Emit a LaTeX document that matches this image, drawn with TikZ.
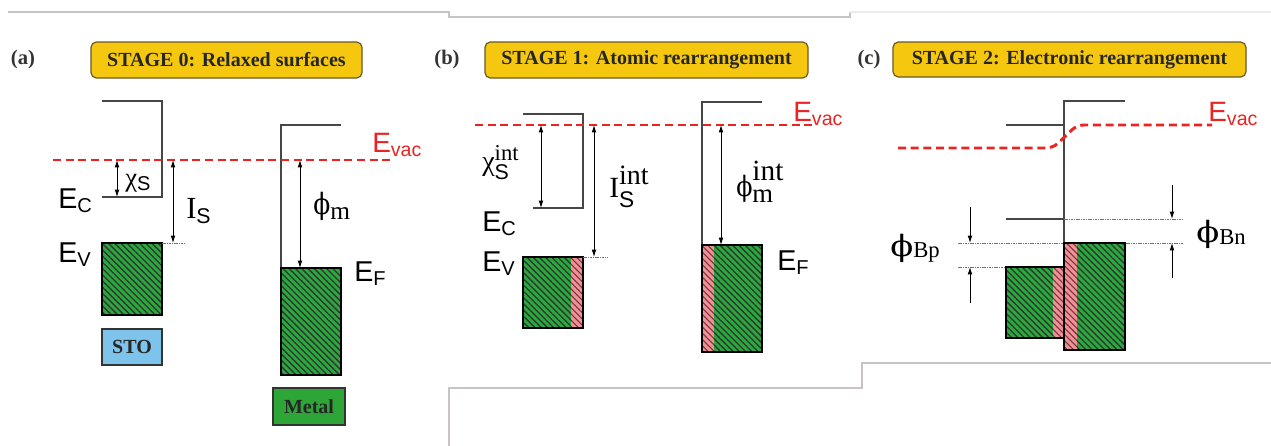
\RequirePackage{fix-cm}
\documentclass[tikz,border=0pt]{standalone}
\usepackage{amsmath}
\usepackage{graphicx}
\usepackage{fontspec}
\setmainfont{Liberation Serif}
\setsansfont{Liberation Sans}
\newfontfamily\phifont{DejaVu Serif}
\usetikzlibrary{patterns.meta,arrows.meta}
\definecolor{gold}{RGB}{245,200,15}
\definecolor{goldedge}{RGB}{105,90,40}
\definecolor{evacred}{RGB}{235,35,35}
\definecolor{bandgray}{RGB}{70,70,70}
\definecolor{hgreen}{RGB}{40,170,60}
\definecolor{hpink}{RGB}{240,145,150}
\definecolor{pinkline}{RGB}{120,50,60}
\definecolor{stoblue}{RGB}{125,195,235}
\definecolor{metalgreen}{RGB}{45,165,55}
\definecolor{framegray}{RGB}{200,196,196}
\newcommand{\fsz}[1]{\fontsize{#1}{#1}\selectfont}
\newcommand{\scripts}[4]{\begingroup\setbox0\hbox{#1}\setbox2\hbox{#3}%
  \ifdim\wd0>\wd2 \rlap{\raisebox{-#4}{\box2}}\raisebox{#2}{\box0}%
  \else \rlap{\raisebox{#2}{\box0}}\raisebox{-#4}{\box2}\fi\endgroup}
\newcommand{\phisym}[2]{{\phifont\fsz{#1}\scalebox{#2}[1]{ϕ}}}
\tikzset{
  stagebox/.style={draw=goldedge, fill=gold, rounded corners=4pt, line width=0.9pt, inner sep=0pt,
     font=\fontsize{15}{18}\selectfont\bfseries, text=black!85},
  panel/.style={font=\fontsize{15.5}{18}\selectfont\bfseries, text=black!80, inner sep=0pt},
  band/.style={draw=bandgray, line width=1pt},
  evac/.style={draw=evacred, line width=2.2pt, dash pattern=on 6pt off 3.5pt},
  evaclbl/.style={text=evacred, font=\sffamily\fontsize{21}{24}\selectfont, inner sep=0pt, anchor=base west},
  elbl/.style={font=\sffamily\fontsize{21.5}{24}\selectfont, inner sep=0pt, anchor=base west},
  qlbl/.style={inner sep=0pt, anchor=base west},
  arr/.style={line width=0.6pt, {Latex[length=5.5pt,width=3.5pt]}-{Latex[length=5.5pt,width=3.5pt]}},
  sarr/.style={line width=0.6pt, -{Latex[length=5.5pt,width=3.5pt]}},
  lvl/.style={draw=black!55, line width=0.6pt, dash pattern=on 1.2pt off 0.6pt},
  gband/.style={preaction={fill=hgreen}, pattern={Lines[angle=-45,distance=3.3pt,line width=1pt]}, pattern color=black!80},
  pband/.style={preaction={fill=hpink}, pattern={Lines[angle=-45,distance=3.3pt,line width=0.8pt]}, pattern color=pinkline},
  boxedge/.style={draw=black, line width=0.8pt},
  tagbox/.style={draw=black!80, line width=0.8pt, inner sep=0pt, font=\fontsize{15}{18}\selectfont\bfseries, text=black!85},
}
\begin{document}
\begin{tikzpicture}[x=0.75pt,y=-0.75pt]
\useasboundingbox (0,0) rectangle (1271,446);
\fill[white] (0,0) rectangle (1271,446);
% screenshot frame lines
\draw[framegray, line width=0.8pt] (8,12) -- (449,12) -- (449,17) -- (850,17) -- (850,12);
\draw[framegray!35, line width=0.8pt] (850,12) -- (1271,12);
\draw[framegray, line width=0.8pt] (449,446) -- (449,388) -- (862,388) -- (862,363) -- (1271,363);

% ================= panel (a)
\node[panel] (pa) at (23,60) {(a)};
\node[stagebox, minimum width=203.25pt, minimum height=27pt] (s0) at (226.5,60) {STAGE 0: Relaxed surfaces};
\coordinate (a1) at (102,101); \coordinate (a2) at (162,101);
\coordinate (a3) at (162,197); \coordinate (a4) at (102,197);
\draw[band] (a1) -- (a2) -- (a3) -- (a4);
\path[gband] (102,243) rectangle (162,315);
\draw[boxedge] (102,243) rectangle (162,315);
\coordinate (aEV) at (162,243); \coordinate (aEVd) at (186,243);
\draw[lvl] (aEV) -- (aEVd);
\coordinate (m1) at (281,375); \coordinate (m2) at (281,125); \coordinate (m3) at (341,125);
\draw[band] (m1) -- (m2) -- (m3);
\path[gband] (281,268) rectangle (341,375);
\draw[boxedge] (281,268) rectangle (341,375);
\coordinate (av0) at (53,160); \coordinate (av1) at (390,160);
\draw[evac] (av0) -- (av1);
\node[evaclbl] (aevl) at (372,152) {E$_{\text{vac}}$};
\coordinate (achiT) at (117,160); \coordinate (achiB) at (117,197);
\draw[arr] (achiT) -- (achiB);
\node[qlbl] (achi) at (125,186) {{\fsz{20}χ}\raisebox{-3.5pt}{\sffamily\fsz{15}S}};
\coordinate (aIT) at (173,160); \coordinate (aIB) at (173,243);
\draw[arr] (aIT) -- (aIB);
\node[qlbl] (aIS) at (186,218) {{\fsz{23}I}\raisebox{-4pt}{\sffamily\fsz{16}S}};
\coordinate (aphT) at (300,160); \coordinate (aphB) at (300,268);
\draw[arr] (aphT) -- (aphB);
\node[qlbl] (aphi) at (313,214) {\phisym{22}{0.85}\raisebox{-4pt}{\fsz{19}m}};
\node[elbl] (aEC) at (58,208) {E$_{\text{C}}$};
\node[elbl] (aEVl) at (58,262) {E$_{\text{V}}$};
\node[elbl] (aEF) at (354,281) {E$_{\text{F}}$};
\node[tagbox, fill=stoblue, minimum width=45pt, minimum height=27pt] (sto) at (132,347) {STO};
\node[tagbox, fill=metalgreen, minimum width=54pt, minimum height=27.75pt] (metal) at (309,406.5) {Metal};

% ================= panel (b)
\node[panel] (pb) at (447,60) {(b)};
\node[stagebox, minimum width=242.25pt, minimum height=27pt] (s1) at (646.5,60) {STAGE 1: Atomic rearrangement};
\coordinate (b1) at (523,114); \coordinate (b2) at (583,114);
\coordinate (b3) at (583,208); \coordinate (b4) at (533,208);
\draw[band] (b1) -- (b2) -- (b3) -- (b4);
\path[gband] (523,257) rectangle (571,328);
\path[pband] (571,257) rectangle (583,328);
\draw[boxedge] (523,257) rectangle (583,328);
\coordinate (bEV) at (583,257); \coordinate (bEVd) at (608,257);
\draw[lvl] (bEV) -- (bEVd);
\coordinate (n1) at (702,352); \coordinate (n2) at (702,102); \coordinate (n3) at (762,102);
\draw[band] (n1) -- (n2) -- (n3);
\path[pband] (702,245) rectangle (714,352);
\path[gband] (714,245) rectangle (762,352);
\draw[boxedge] (702,245) rectangle (762,352);
\coordinate (bv0) at (475,125); \coordinate (bv1) at (812,125);
\draw[evac] (bv0) -- (bv1);
\node[evaclbl] (bevl) at (793,121) {E$_{\text{vac}}$};
\coordinate (bchiT) at (541,125); \coordinate (bchiB) at (541,208);
\draw[arr] (bchiT) -- (bchiB);
\node[qlbl] (bchi) at (482,170) {{\fsz{21}χ}\scripts{\fsz{17}int}{7pt}{\sffamily\fsz{16}S}{7pt}};
\coordinate (bIT) at (594,125); \coordinate (bIB) at (594,257);
\draw[arr] (bIT) -- (bIB);
\node[qlbl] (bIS) at (609,197) {{\fsz{22}I}\scripts{\fsz{21}int}{9.5pt}{\sffamily\fsz{17}S}{7.5pt}};
\coordinate (bphT) at (721,125); \coordinate (bphB) at (721,245);
\draw[arr] (bphT) -- (bphB);
\node[qlbl] (bphi) at (736,196) {\phisym{21}{0.85}\scripts{\fsz{22}int}{12pt}{\fsz{20}m}{5pt}};
\node[elbl] (bEC) at (482,231) {E$_{\text{C}}$};
\node[elbl] (bEVl) at (482,271) {E$_{\text{V}}$};
\node[elbl] (bEF) at (777,270) {E$_{\text{F}}$};

% ================= panel (c)
\node[panel] (pc) at (869,60) {(c)};
\node[stagebox, minimum width=264.75pt, minimum height=26.25pt] (s2) at (1069.5,59.5) {STAGE 2: Electronic rearrangement};
\coordinate (c1) at (1064,243); \coordinate (c2) at (1064,101); \coordinate (c3) at (1125,101);
\draw[band] (c1) -- (c2) -- (c3);
\coordinate (cv1) at (1006,125); \coordinate (cv2) at (1064,125);
\draw[band] (cv1) -- (cv2);
\coordinate (cc1) at (1006,219); \coordinate (cc2) at (1064,219); \coordinate (cc3) at (1183,219);
\draw[band] (cc1) -- (cc2);
\draw[lvl] (cc2) -- (cc3);
\coordinate (cf1) at (958,243); \coordinate (cf2) at (1183,243);
\draw[lvl] (cf1) -- (cf2);
\coordinate (cp1) at (958,267); \coordinate (cp2) at (1006,267);
\draw[lvl] (cp1) -- (cp2);
\path[gband] (1006,267) rectangle (1053,338);
\path[pband] (1053,267) rectangle (1064,338);
\draw[boxedge] (1006,267) rectangle (1064,338);
\path[pband] (1064,243) rectangle (1077,350);
\path[gband] (1077,243) rectangle (1125,350);
\draw[boxedge] (1064,243) rectangle (1125,350);
\coordinate (cva) at (898,148); \coordinate (cvb) at (1053,148);
\coordinate (cvc) at (1077,125); \coordinate (cvd) at (1212,125);
\draw[evac, rounded corners=5pt] (cva) -- (cvb) -- (cvc) -- (cvd);
\node[evaclbl] (cevl) at (1208,121) {E$_{\text{vac}}$};
\coordinate (bn1) at (1172,185); \coordinate (bn2) at (1172,219);
\coordinate (bn3) at (1172,278); \coordinate (bn4) at (1172,243);
\draw[sarr] (bn1) -- (bn2);
\draw[sarr] (bn3) -- (bn4);
\node[qlbl] (phibn) at (1196,242) {\phisym{22}{1.15}\raisebox{-2pt}{\fsz{17}Bn}};
\coordinate (bp1) at (970,207); \coordinate (bp2) at (970,243);
\coordinate (bp3) at (970,303); \coordinate (bp4) at (970,267);
\draw[sarr] (bp1) -- (bp2);
\draw[sarr] (bp3) -- (bp4);
\node[qlbl] (phibp) at (890,256) {\phisym{22}{1.15}\raisebox{-1pt}{\fsz{17}Bp}};
\end{tikzpicture}
\end{document}
